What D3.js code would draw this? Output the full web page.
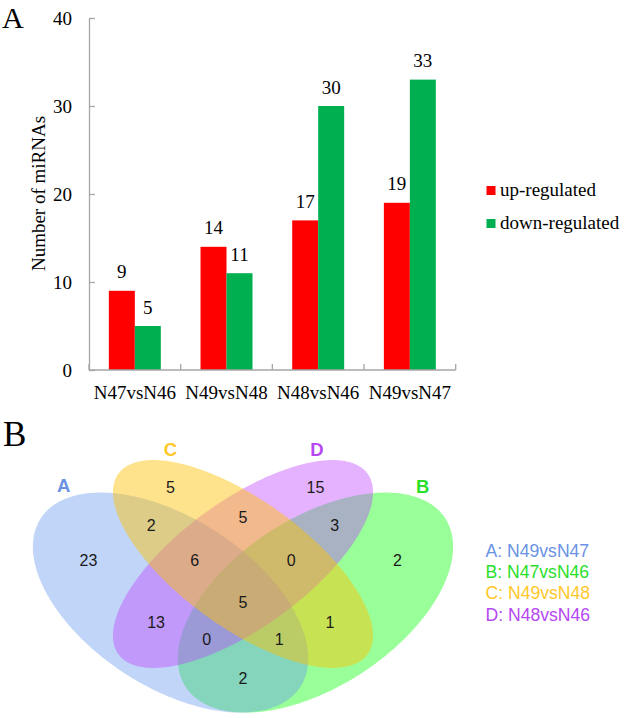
<!DOCTYPE html>
<html>
<head>
<meta charset="utf-8">
<script src="https://cdn.jsdelivr.net/npm/d3@7"></script>
<style>
  html, body { margin: 0; padding: 0; background: #fff; }
  svg { display: block; }
</style>
</head>
<body>
<svg id="chart" width="625" height="718"></svg>
<script>
// ---------- Data: panel A (bar chart) ----------
const categories = ["N47vsN46", "N49vsN48", "N48vsN46", "N49vsN47"];
const seriesNames = ["up-regulated", "down-regulated"];
const upRegulated = [9, 14, 17, 19];
const downRegulated = [5, 11, 30, 33];
const yTicks = [0, 10, 20, 30, 40];

// ---------- Data: panel B (Venn diagram) ----------
const setNames = ["A", "B", "C", "D"];
const setComparisons = ["N49vsN47", "N47vsN46", "N49vsN48", "N48vsN46"];
// region keys (which sets the region belongs to) and counts
const regionKeys = ["C", "CD", "D", "AC", "ACD", "ABCD", "BCD", "BD", "A", "AD", "ABD", "AB", "ABC", "BC", "B"];
const regionCounts = [5, 5, 15, 2, 6, 5, 0, 3, 23, 13, 0, 2, 1, 1, 2];

// ---------- Layout / style (not data) ----------
const svg = d3.select("#chart");
const serif = "'Liberation Serif', 'Times New Roman', serif";
const sans = "'Liberation Sans', Arial, sans-serif";
const seriesColors = ["#FF0000", "#00B050"];
const axisColor = "#a6a6a6";

// ===== Panel A =====
const plotLeft = 89, plotRight = 455.7, plotTop = 18, plotBottom = 370;
const x0 = d3.scaleBand().domain(categories).range([plotLeft, plotRight]).paddingInner(0).paddingOuter(0);
const bw = x0.bandwidth();
const x1 = d3.scaleBand().domain(seriesNames).range([bw * 0.2165, bw * 0.7835]).padding(0);
const y = d3.scaleLinear().domain([0, 40]).range([plotBottom, plotTop]);
const colorScale = d3.scaleOrdinal().domain(seriesNames).range(seriesColors);

const seriesValues = [upRegulated, downRegulated];
const barData = [];
categories.forEach((c, i) => {
  seriesNames.forEach((s, j) => barData.push({ cat: c, series: s, value: seriesValues[j][i] }));
});

const gA = svg.append("g");

// bars
gA.selectAll("rect.bar").data(barData).enter().append("rect")
  .attr("class", "bar")
  .attr("x", d => x0(d.cat) + x1(d.series))
  .attr("y", d => y(d.value))
  .attr("width", x1.bandwidth())
  .attr("height", d => y(0) - y(d.value))
  .attr("fill", d => colorScale(d.series));

// value labels
gA.selectAll("text.val").data(barData).enter().append("text")
  .attr("class", "val")
  .attr("x", d => x0(d.cat) + x1(d.series) + x1.bandwidth() / 2)
  .attr("y", d => y(d.value) - 12.5)
  .attr("text-anchor", "middle")
  .attr("font-family", serif)
  .attr("font-size", 19)
  .attr("fill", "#000")
  .text(d => d.value);

// y axis
const yAxis = d3.axisLeft(y).tickValues(yTicks).tickSizeInner(-6).tickSizeOuter(0).tickPadding(17);
const gy = gA.append("g").attr("transform", `translate(${plotLeft},0)`).call(yAxis);
gy.select(".domain").attr("stroke", axisColor).attr("stroke-width", 1.3);
gy.selectAll(".tick line").attr("stroke", axisColor).attr("stroke-width", 1.3);
gy.selectAll(".tick text").attr("font-family", serif).attr("font-size", 19).attr("fill", "#000");

// x axis (ticks at band boundaries, labels at band centres)
const gx = gA.append("g");
gx.append("line").attr("x1", plotLeft).attr("x2", plotRight).attr("y1", plotBottom).attr("y2", plotBottom)
  .attr("stroke", axisColor).attr("stroke-width", 1.3);
const boundaries = categories.map(c => x0(c)).concat([x0(categories[categories.length - 1]) + bw]);
gx.selectAll("line.xt").data(boundaries).enter().append("line")
  .attr("class", "xt")
  .attr("x1", d => d).attr("x2", d => d)
  .attr("y1", plotBottom).attr("y2", plotBottom - 6)
  .attr("stroke", axisColor).attr("stroke-width", 1.3);
gx.selectAll("text.xl").data(categories).enter().append("text")
  .attr("class", "xl")
  .attr("x", d => x0(d) + bw / 2)
  .attr("y", 399)
  .attr("text-anchor", "middle")
  .attr("font-family", serif).attr("font-size", 19).attr("fill", "#000")
  .text(d => d);

// y label
gA.append("text")
  .attr("transform", "translate(45,193.5) rotate(-90)")
  .attr("text-anchor", "middle")
  .attr("font-family", serif).attr("font-size", 19).attr("fill", "#000")
  .text("Number of miRNAs");

// legend
const leg = gA.append("g");
seriesNames.forEach((s, i) => {
  const yy = 195.5 + i * 33;
  leg.append("rect").attr("x", 486.5).attr("y", yy - 9.5).attr("width", 9).attr("height", 9).attr("fill", colorScale(s));
  leg.append("text").attr("x", 500).attr("y", yy)
    .attr("font-family", serif).attr("font-size", 19).attr("fill", "#000").text(s);
});

// panel letter A
svg.append("text").attr("x", 2).attr("y", 28).attr("font-family", serif).attr("font-size", 30).attr("fill", "#000").text("A");

// ===== Panel B =====
const vx = d3.scaleLinear().domain([0, 1]).range([1.5, 484.5]);
const vy = d3.scaleLinear().domain([0, 1]).range([784, 398]);

// ellipse geometry in unit coordinates (y up)
const ellipses = {
  A: { cx: 0.35, cy: 0.47, a: 0.35, b: 0.2, rot: 135 },
  B: { cx: 0.65, cy: 0.47, a: 0.35, b: 0.2, rot: 45 },
  C: { cx: 0.50, cy: 0.57, a: 0.35, b: 0.15, rot: 135 },
  D: { cx: 0.50, cy: 0.57, a: 0.35, b: 0.15, rot: 45 }
};
const setColors = { A: "#6495ED", B: "#00FF00", C: "#FFC000", D: "#BF3EFF" };
const setAlpha = { A: 0.4, B: 0.4, C: 0.45, D: 0.4 };
const textColors = { A: "#6A92E4", B: "#2ADF2A", C: "#FFC828", D: "#B548F2" };
const drawOrder = ["B", "A", "D", "C"];

function ellipsePoints(e) {
  const pts = [];
  const th = e.rot * Math.PI / 180;
  for (let k = 0; k < 360; k++) {
    const t = k * Math.PI / 180;
    const px = e.a * Math.cos(t), py = e.b * Math.sin(t);
    pts.push([e.cx + px * Math.cos(th) - py * Math.sin(th), e.cy + px * Math.sin(th) + py * Math.cos(th)]);
  }
  return pts;
}
const line = d3.line().x(p => vx(p[0])).y(p => vy(p[1])).curve(d3.curveLinearClosed);

const gB = svg.append("g");
gB.selectAll("path.ell").data(drawOrder).enter().append("path")
  .attr("class", "ell")
  .attr("d", k => line(ellipsePoints(ellipses[k])))
  .attr("fill", k => setColors[k])
  .attr("fill-opacity", k => setAlpha[k])
  .attr("stroke", "none");

// region label positions (unit coords)
const regionPos = {
  C: [0.35, 0.77], CD: [0.50, 0.69], D: [0.65, 0.77],
  AC: [0.31, 0.67], ACD: [0.40, 0.58], ABCD: [0.50, 0.47], BCD: [0.60, 0.58], BD: [0.69, 0.67],
  A: [0.18, 0.58], AD: [0.32, 0.42], ABD: [0.425, 0.375], AB: [0.50, 0.275], ABC: [0.575, 0.375],
  BC: [0.68, 0.42], B: [0.82, 0.58]
};
gB.selectAll("text.reg").data(regionKeys).enter().append("text")
  .attr("class", "reg")
  .attr("x", k => vx(regionPos[k][0]))
  .attr("y", k => vy(regionPos[k][1]))
  .attr("dy", "0.36em")
  .attr("text-anchor", "middle")
  .attr("font-family", sans).attr("font-size", 16).attr("fill", "#1a1a1a")
  .text((k, i) => regionCounts[i]);

// set name labels
const setLabelPos = { A: [0.129, 0.774], B: [0.872, 0.772], C: [0.35, 0.867], D: [0.653, 0.867] };
gB.selectAll("text.set").data(setNames).enter().append("text")
  .attr("class", "set")
  .attr("x", k => vx(setLabelPos[k][0]))
  .attr("y", k => vy(setLabelPos[k][1]))
  .attr("dy", "0.36em")
  .attr("text-anchor", "middle")
  .attr("font-family", sans).attr("font-size", 18.5).attr("font-weight", "bold")
  .attr("fill", k => textColors[k])
  .text(k => k);

// Venn legend
gB.selectAll("text.vleg").data(setNames).enter().append("text")
  .attr("class", "vleg")
  .attr("x", 485.5)
  .attr("y", (k, i) => 556.7 + i * 21.35)
  .attr("font-family", sans).attr("font-size", 17.6)
  .attr("fill", k => textColors[k])
  .text((k, i) => `${k}: ${setComparisons[i]}`);

// panel letter B
svg.append("text").attr("x", 3).attr("y", 446).attr("font-family", serif).attr("font-size", 35).attr("fill", "#000").text("B");
</script>
</body>
</html>
